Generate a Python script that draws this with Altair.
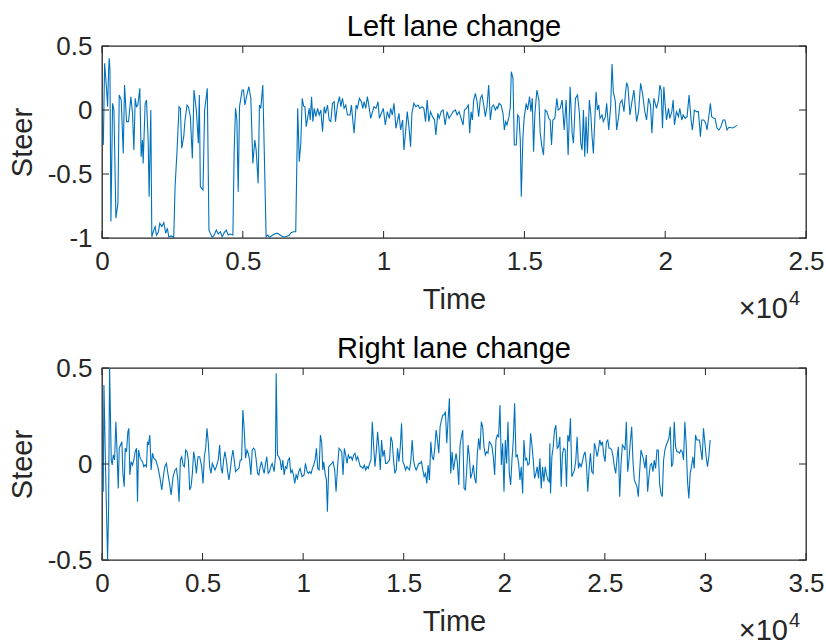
import altair as alt
import pandas as pd

# ---------------- data ----------------
left_time = [46, 93, 164, 199, 235, 258, 282, 317, 376, 424, 494, 565, 612, 683, 754, 801, 872, 943, 1025, 1084,
             1132, 1179, 1226, 1273, 1344, 1391, 1438, 1462, 1533, 1580, 1639, 1674, 1733, 1769, 1840, 1887, 1934, 2005, 2052, 2123,
             2194, 2264, 2323, 2371, 2453, 2548, 2595, 2666, 2736, 2784, 2831, 2902, 2949, 3020, 3067, 3138, 3208, 3267, 3350, 3421,
             3456, 3492, 3539, 3586, 3645, 3739, 3798, 3846, 3916, 3987, 4058, 4129, 4200, 4270, 4341, 4412, 4483, 4554, 4648, 4695,
             4742, 4790, 4837, 4884, 4931, 4978, 5026, 5073, 5144, 5214, 5285, 5356, 5427, 5474, 5545, 5592, 5639, 5710, 5769, 5828,
             5887, 5946, 6064, 6182, 6241, 6324, 6418, 6536, 6654, 6713, 6796, 6880, 6950, 7005, 7060, 7110, 7160, 7206, 7253, 7300,
             7359, 7394, 7442, 7489, 7536, 7595, 7654, 7713, 7772, 7831, 7890, 7937, 8008, 8067, 8126, 8185, 8244, 8291, 8362, 8433,
             8480, 8539, 8598, 8657, 8716, 8810, 8858, 8905, 8952, 9023, 9070, 9141, 9212, 9259, 9306, 9365, 9424, 9483, 9542, 9589,
             9660, 9731, 9802, 9849, 9920, 9990, 10061, 10132, 10203, 10250, 10309, 10368, 10439, 10486, 10545, 10604, 10675, 10722, 10781, 10840,
             10899, 10958, 11005, 11076, 11147, 11218, 11288, 11371, 11430, 11489, 11548, 11607, 11666, 11737, 11808, 11855, 11926, 11973, 12044, 12114,
             12185, 12256, 12327, 12398, 12468, 12551, 12610, 12681, 12752, 12822, 12870, 12940, 13011, 13058, 13106, 13153, 13200, 13259, 13318, 13377,
             13436, 13495, 13554, 13613, 13672, 13731, 13790, 13849, 13908, 13967, 14026, 14052, 14099, 14170, 14240, 14288, 14335, 14382, 14453, 14500,
             14535, 14594, 14642, 14712, 14760, 14807, 14854, 14889, 14948, 14996, 15066, 15114, 15184, 15232, 15279, 15326, 15373, 15444, 15515, 15562,
             15621, 15680, 15739, 15798, 15869, 15916, 15963, 16010, 16081, 16152, 16199, 16270, 16341, 16412, 16482, 16553, 16624, 16695, 16742, 16813,
             16884, 16954, 17002, 17049, 17096, 17143, 17190, 17238, 17308, 17356, 17403, 17450, 17497, 17544, 17592, 17639, 17686, 17757, 17804, 17875,
             17922, 17993, 18064, 18111, 18158, 18229, 18276, 18347, 18394, 18465, 18536, 18583, 18630, 18677, 18748, 18819, 18890, 18984, 19055, 19126,
             19196, 19267, 19338, 19409, 19480, 19527, 19598, 19692, 19763, 19810, 19857, 19904, 19952, 19999, 20046, 20117, 20164, 20235, 20282, 20329,
             20400, 20471, 20518, 20589, 20636, 20707, 20778, 20848, 20919, 20966, 21037, 21108, 21179, 21250, 21297, 21368, 21438, 21486, 21556, 21604,
             21651, 21722, 21769, 21840, 21910, 21981, 22052, 22123, 22194, 22264, 22400, 22550]
left_steer = [-0.273, 0.365, 0.156, 0.026, 0.313, 0.404, 0.313, -0.872, 0.052, 0.0, -0.846, -0.729, 0.117, 0.078, -0.339, 0.195, -0.091, -0.091, 0.104, -0.026,
              -0.313, 0.091, 0.026, 0.039, 0.169, -0.365, -0.234, -0.417, 0.052, 0.078, -0.234, -0.677, 0.0, -0.99, -0.938, -0.911, -0.977, -0.951, -0.885, -0.911,
              -0.88, -0.964, -0.924, -0.99, -0.984, -0.995, -0.599, -0.313, 0.026, 0.013, -0.299, -0.208, -0.078, 0.039, 0.026, -0.052, -0.378, 0.156, 0.0, -0.26,
              0.117, -0.599, -0.612, -0.625, 0.0, 0.169, -0.938, -0.964, -0.995, -0.977, -0.938, -0.969, -0.951, -0.99, -0.958, -0.938, -0.977, -0.969, -0.977, -0.313,
              0.013, -0.078, -0.638, 0.026, 0.091, 0.156, 0.156, 0.039, 0.117, 0.182, 0.091, -0.417, -0.234, -0.313, -0.573, 0.039, 0.013, 0.195, -0.391, -0.99,
              -0.977, -0.995, -0.977, -0.964, -0.964, -0.977, -0.99, -0.99, -0.977, -0.958, -0.951, -0.951, 0.013, -0.404, -0.26, 0.091, 0.03, 0.026, -0.13, -0.065,
              0.013, -0.078, 0.104, -0.091, 0.013, -0.052, 0.013, -0.039, 0.0, -0.169, 0.026, -0.026, 0.039, -0.078, -0.091, 0.052, 0.065, -0.091, 0.039, 0.104,
              0.026, 0.091, 0.013, 0.039, -0.039, -0.039, 0.039, -0.078, -0.182, 0.039, 0.013, 0.091, 0.065, 0.013, 0.065, 0.013, 0.104, 0.026, -0.065, -0.026,
              0.026, 0.013, 0.065, -0.065, -0.026, 0.013, -0.117, -0.013, -0.065, 0.013, -0.039, 0.052, -0.143, -0.091, -0.026, -0.156, -0.078, -0.313, -0.169, -0.013,
              -0.13, -0.286, -0.026, 0.052, 0.026, 0.039, 0.013, 0.026, 0.013, -0.091, 0.078, -0.091, -0.013, -0.052, -0.078, -0.195, -0.026, -0.065, -0.013, 0.0,
              -0.117, -0.013, -0.065, -0.039, -0.013, 0.0, -0.039, -0.013, -0.065, -0.117, 0.0, 0.013, 0.039, -0.182, -0.013, -0.078, 0.078, 0.13, 0.065, -0.052,
              0.091, 0.117, 0.039, -0.052, 0.026, 0.195, -0.078, 0.026, 0.039, 0.0, 0.026, 0.013, 0.052, 0.039, -0.026, -0.156, -0.091, -0.117, -0.052, 0.026,
              0.299, 0.247, -0.273, -0.273, -0.039, -0.052, -0.234, -0.677, -0.208, -0.052, 0.052, 0.0, 0.104, -0.013, 0.091, -0.326, -0.026, 0.156, 0.078, -0.182,
              -0.286, -0.352, 0.0, -0.013, -0.065, -0.078, -0.273, -0.078, -0.065, 0.091, 0.0, 0.013, 0.078, -0.156, 0.078, -0.352, 0.182, -0.182, -0.26, 0.091,
              0.117, -0.026, -0.26, -0.313, 0.0, -0.365, -0.052, -0.339, 0.078, -0.026, -0.208, -0.339, -0.091, 0.143, 0.0, 0.039, -0.065, -0.039, -0.091, -0.052,
              0.052, -0.156, 0.026, 0.359, 0.143, 0.065, -0.156, -0.052, 0.052, 0.078, -0.013, 0.117, 0.214, 0.182, -0.039, 0.065, 0.156, -0.091, -0.013, 0.208,
              0.13, 0.0, -0.078, 0.091, 0.039, -0.182, 0.091, 0.013, 0.078, 0.195, 0.156, -0.143, 0.182, 0.039, -0.078, 0.013, -0.065, -0.013, 0.078, -0.117,
              -0.013, -0.052, 0.013, -0.078, -0.039, -0.065, -0.052, 0.117, -0.078, -0.156, 0.0, -0.013, -0.013, -0.208, -0.078, -0.078, -0.104, -0.156, -0.039, 0.052,
              -0.052, -0.065, -0.065, -0.143, -0.156, -0.13, -0.078, -0.078, -0.156, -0.135, -0.14, -0.12]

right_time = [63, 96, 178, 277, 327, 377, 459, 509, 559, 625, 691, 757, 806, 856, 922, 988, 1038, 1104, 1154, 1220,
              1286, 1335, 1385, 1451, 1517, 1583, 1649, 1716, 1765, 1815, 1881, 1947, 2013, 2079, 2145, 2212, 2261, 2311, 2377, 2443,
              2509, 2575, 2674, 2774, 2873, 2972, 3038, 3121, 3203, 3286, 3369, 3435, 3534, 3633, 3699, 3765, 3831, 3898, 3964, 4030,
              4096, 4162, 4228, 4294, 4360, 4427, 4493, 4559, 4625, 4691, 4774, 4856, 4955, 5022, 5088, 5154, 5220, 5286, 5352, 5418,
              5484, 5551, 5617, 5683, 5782, 5848, 5914, 5980, 6046, 6113, 6179, 6245, 6311, 6377, 6443, 6509, 6575, 6642, 6708, 6807,
              6873, 6939, 7005, 7071, 7137, 7204, 7270, 7336, 7402, 7468, 7534, 7600, 7666, 7733, 7799, 7865, 7931, 7997, 8063, 8129,
              8195, 8261, 8328, 8394, 8460, 8559, 8625, 8658, 8724, 8790, 8857, 8923, 8989, 9055, 9121, 9187, 9253, 9319, 9386, 9452,
              9518, 9584, 9650, 9716, 9782, 9848, 9948, 10047, 10113, 10197, 10264, 10330, 10396, 10462, 10528, 10594, 10660, 10726, 10793, 10859,
              10925, 10974, 11024, 11090, 11156, 11206, 11272, 11355, 11421, 11487, 11569, 11636, 11718, 11784, 11850, 11917, 11983, 12049, 12115, 12181,
              12247, 12313, 12379, 12446, 12512, 12578, 12644, 12710, 12776, 12842, 12908, 12974, 13041, 13107, 13173, 13239, 13305, 13371, 13437, 13503,
              13570, 13636, 13702, 13768, 13834, 13900, 13966, 14032, 14099, 14165, 14231, 14297, 14363, 14429, 14495, 14561, 14627, 14694, 14760, 14826,
              14892, 14958, 15024, 15090, 15156, 15223, 15289, 15355, 15421, 15487, 15553, 15619, 15685, 15752, 15818, 15884, 15950, 16016, 16082, 16148,
              16214, 16280, 16347, 16413, 16479, 16545, 16611, 16677, 16743, 16809, 16876, 16942, 17008, 17074, 17140, 17206, 17272, 17338, 17405, 17471,
              17537, 17603, 17669, 17735, 17801, 17867, 17933, 18000, 18066, 18132, 18198, 18264, 18330, 18396, 18462, 18529, 18595, 18661, 18727, 18793,
              18859, 18925, 18991, 19058, 19124, 19190, 19256, 19322, 19388, 19454, 19520, 19586, 19653, 19719, 19785, 19853, 19919, 19985, 20051, 20117,
              20184, 20250, 20316, 20382, 20448, 20514, 20580, 20646, 20713, 20779, 20845, 20911, 20977, 21043, 21109, 21175, 21242, 21308, 21374, 21440,
              21506, 21572, 21638, 21704, 21770, 21837, 21903, 21969, 22035, 22101, 22167, 22233, 22266, 22299, 22366, 22432, 22498, 22564, 22630, 22696,
              22762, 22828, 22894, 22961, 23027, 23093, 23159, 23225, 23291, 23357, 23423, 23490, 23556, 23622, 23688, 23754, 23820, 23886, 23952, 24019,
              24085, 24151, 24217, 24283, 24349, 24415, 24481, 24547, 24614, 24680, 24746, 24812, 24878, 24944, 25010, 25076, 25143, 25209, 25275, 25341,
              25407, 25473, 25539, 25605, 25672, 25738, 25804, 25870, 25936, 26002, 26068, 26134, 26200, 26267, 26333, 26399, 26465, 26531, 26597, 26663,
              26729, 26796, 26862, 26928, 26994, 27060, 27126, 27192, 27258, 27325, 27391, 27457, 27523, 27589, 27655, 27721, 27787, 27854, 27920, 27986,
              28052, 28118, 28184, 28250, 28316, 28382, 28449, 28515, 28581, 28647, 28713, 28779, 28845, 28911, 28978, 29044, 29110, 29176, 29242, 29308,
              29374, 29440, 29507, 29573, 29639, 29705, 29771, 29837, 29903, 29969, 30035, 30102, 30168, 30234]
right_steer = [-0.144, 0.411, -0.031, -0.497, -0.24, 0.5, 0.021, -0.005, 0.047, 0.021, 0.22, 0.038, -0.127, 0.082, 0.099, 0.116, -0.049, -0.118, 0.082, 0.064,
               0.168, 0.186, -0.057, 0.012, -0.005, 0.021, 0.064, 0.082, -0.196, 0.073, 0.038, 0.021, 0.012, -0.014, -0.005, -0.014, 0.116, 0.099, 0.151, -0.031,
               0.056, 0.03, 0.021, -0.014, -0.066, -0.135, -0.075, -0.014, 0.003, -0.057, -0.109, -0.161, -0.066, -0.031, -0.023, -0.075, -0.196, 0.021, 0.038, -0.005,
               -0.014, 0.073, 0.064, 0.021, -0.135, -0.118, -0.049, 0.064, 0.021, -0.049, 0.038, 0.038, -0.014, -0.101, 0.038, 0.082, 0.186, 0.108, -0.014, -0.049,
               0.003, -0.014, -0.031, -0.014, 0.021, 0.099, -0.014, -0.049, 0.021, 0.064, 0.021, -0.04, -0.083, -0.031, 0.03, 0.073, 0.021, -0.04, -0.031, -0.023,
               0.021, 0.021, 0.281, 0.177, 0.03, 0.073, 0.056, 0.021, -0.057, 0.073, 0.082, 0.073, 0.021, -0.049, -0.057, -0.014, 0.012, -0.023, -0.049, 0.003,
               0.038, -0.049, -0.04, -0.014, 0.003, -0.04, 0.038, 0.472, 0.047, 0.038, 0.021, -0.031, 0.021, -0.057, -0.014, -0.023, 0.021, 0.03, -0.049, -0.031,
               -0.057, -0.101, -0.057, -0.075, -0.04, -0.023, -0.066, -0.057, 0.003, -0.04, -0.049, -0.04, -0.049, -0.023, -0.005, 0.021, 0.082, -0.023, -0.031, 0.151,
               0.108, -0.031, 0.012, -0.049, -0.083, -0.248, -0.014, -0.005, 0.003, 0.012, -0.031, -0.144, -0.005, 0.082, 0.073, 0.064, -0.057, 0.082, 0.047, 0.003,
               0.047, 0.03, 0.038, 0.021, 0.047, 0.056, 0.021, 0.038, 0.012, -0.014, -0.014, -0.023, -0.005, -0.031, -0.014, -0.023, 0.003, 0.021, 0.22, 0.099,
               -0.014, 0.064, 0.168, 0.082, -0.031, 0.125, 0.038, 0.073, 0.003, 0.003, 0.012, 0.021, 0.142, 0.116, 0.021, -0.049, -0.031, 0.082, 0.012, 0.082,
               0.212, 0.012, -0.005, -0.031, -0.014, -0.023, -0.031, 0.021, 0.125, 0.021, -0.014, -0.031, -0.014, 0.003, 0.003, 0.012, -0.031, -0.066, -0.049, -0.101,
               -0.005, -0.083, 0.116, 0.038, 0.021, 0.082, 0.177, 0.125, 0.056, 0.194, 0.229, 0.255, 0.255, 0.273, 0.108, 0.229, 0.342, -0.049, 0.064, -0.031,
               0.012, 0.056, 0.003, -0.109, 0.099, 0.142, 0.177, -0.127, -0.135, -0.031, 0.099, 0.038, -0.075, -0.049, -0.005, -0.075, -0.101, 0.056, 0.134, 0.073,
               0.22, 0.194, 0.09, 0.047, 0.064, 0.056, 0.116, 0.108, 0.09, 0.038, -0.057, 0.125, 0.151, 0.142, 0.307, -0.005, 0.108, -0.144, 0.125, 0.003,
               0.22, -0.049, -0.109, 0.021, 0.125, 0.316, 0.038, 0.047, 0.003, -0.083, -0.014, -0.153, 0.125, 0.021, 0.03, -0.005, 0.003, 0.16, 0.099, 0.021,
               -0.075, -0.049, -0.014, -0.075, 0.03, -0.127, -0.014, -0.092, -0.014, -0.057, -0.083, -0.092, 0.108, -0.153, 0.038, 0.09, 0.177, 0.203, 0.082, 0.09,
               0.142, -0.118, 0.056, 0.082, 0.073, -0.118, 0.151, 0.116, 0.238, -0.066, -0.049, -0.031, 0.021, 0.142, -0.023, 0.003, -0.014, 0.012, 0.047, 0.064,
               -0.005, -0.144, -0.023, 0.056, -0.04, -0.049, 0.108, 0.082, 0.038, 0.073, 0.125, 0.099, 0.116, 0.047, 0.012, 0.116, 0.125, 0.082, 0.082, 0.073,
               0.038, -0.014, -0.049, 0.03, 0.09, -0.17, 0.003, 0.099, 0.09, 0.073, 0.22, -0.04, 0.021, 0.116, 0.194, 0.012, -0.083, -0.101, -0.118, -0.17,
               -0.04, 0.073, 0.047, 0.021, -0.023, 0.047, -0.144, -0.066, -0.005, 0.003, -0.04, 0.021, -0.023, 0.073, 0.073, -0.101, -0.153, -0.17, 0.021, 0.073,
               0.099, 0.116, 0.134, 0.194, -0.014, 0.003, 0.22, 0.09, 0.064, 0.064, 0.056, 0.073, 0.064, 0.021, 0.22, 0.099, -0.092, -0.179, -0.049, -0.014,
               0.038, -0.023, 0.151, 0.125, 0.125, 0.125, 0.073, 0.021, 0.186, 0.116, 0.038, -0.014, 0.038, 0.125]

left_xticks = [0, 5000, 10000, 15000, 20000, 25000]
right_xticks = [0, 5000, 10000, 15000, 20000, 25000, 30000, 35000]
left_yticks = [-1, -0.5, 0, 0.5]
right_yticks = [-0.5, 0, 0.5]

W, H = 704, 192
AX = "#262626"
FONT = "Liberation Sans"
LINE = "#0072BD"
TL = 7


def panel(times, steer, xmax, ymin, ymax, xticks, yticks, title):
    xs = alt.Scale(domain=[0, xmax], nice=False, zero=False)
    ys = alt.Scale(domain=[ymin, ymax], nice=False, zero=False)
    xa = alt.Axis(values=xticks, labelExpr="toString(datum.value/10000)", title="Time")
    ya = alt.Axis(values=yticks, labelExpr="toString(datum.value)", title="Steer")
    df = pd.DataFrame({"Time": times, "Steer": steer})
    line = alt.Chart(df).mark_line(color=LINE, strokeWidth=1.1, clip=True).encode(
        x=alt.X("Time:Q", scale=xs, axis=xa),
        y=alt.Y("Steer:Q", scale=ys, axis=ya),
    )
    xt = pd.DataFrame({"xt": xticks})
    yt = pd.DataFrame({"yt": yticks})
    bt = alt.Chart(xt).mark_rule(color=AX, strokeWidth=1).encode(
        x=alt.X("xt:Q", scale=xs, axis=xa), y=alt.value(H), y2=alt.value(H - TL))
    tt = alt.Chart(xt).mark_rule(color=AX, strokeWidth=1).encode(
        x=alt.X("xt:Q", scale=xs, axis=xa), y=alt.value(0), y2=alt.value(TL))
    lt = alt.Chart(yt).mark_rule(color=AX, strokeWidth=1).encode(
        y=alt.Y("yt:Q", scale=ys, axis=ya), x=alt.value(0), x2=alt.value(TL))
    rt = alt.Chart(yt).mark_rule(color=AX, strokeWidth=1).encode(
        y=alt.Y("yt:Q", scale=ys, axis=ya), x=alt.value(W), x2=alt.value(W - TL))
    txt_df = pd.DataFrame({"t": ["×10"], "e": ["4"], "title": [title]})
    base_txt = alt.Chart(txt_df).mark_text(align="right", baseline="alphabetic", font=FONT,
                                           fontSize=29, color=AX).encode(
        x=alt.value(W - 18), y=alt.value(H + 80), text="t:N")
    exp_txt = alt.Chart(txt_df).mark_text(align="left", baseline="alphabetic", font=FONT,
                                          fontSize=20, color=AX).encode(
        x=alt.value(W - 17), y=alt.value(H + 67), text="e:N")
    title_txt = alt.Chart(txt_df).mark_text(align="center", baseline="alphabetic", font=FONT,
                                            fontSize=29, color="#000000").encode(
        x=alt.value(W / 2), y=alt.value(-10), text="title:N")
    return alt.layer(line, bt, tt, lt, rt, base_txt, exp_txt, title_txt).properties(
        width=W, height=H)


top = panel(left_time, left_steer, 25000, -1, 0.5, left_xticks, left_yticks, "Left lane change")
bottom = panel(right_time, right_steer, 35000, -0.5, 0.5, right_xticks, right_yticks, "Right lane change")

chart = alt.vconcat(top, bottom, spacing=9).properties(
    padding={"left": 7, "top": 12, "right": 0, "bottom": 0}
).configure_view(stroke=AX, strokeWidth=1.3).configure_axis(
    domain=False, ticks=False, grid=False, labelFont=FONT, titleFont=FONT,
    labelFontSize=26, titleFontSize=29, labelColor=AX, titleColor=AX,
    titleFontWeight="normal", labelFlush=False, labelOverlap=False, labelBound=False
).configure_axisX(labelPadding=10, titlePadding=11).configure_axisY(labelPadding=10, titlePadding=10)

chart.save("out.html", embed_options={"renderer": "svg", "actions": False})
